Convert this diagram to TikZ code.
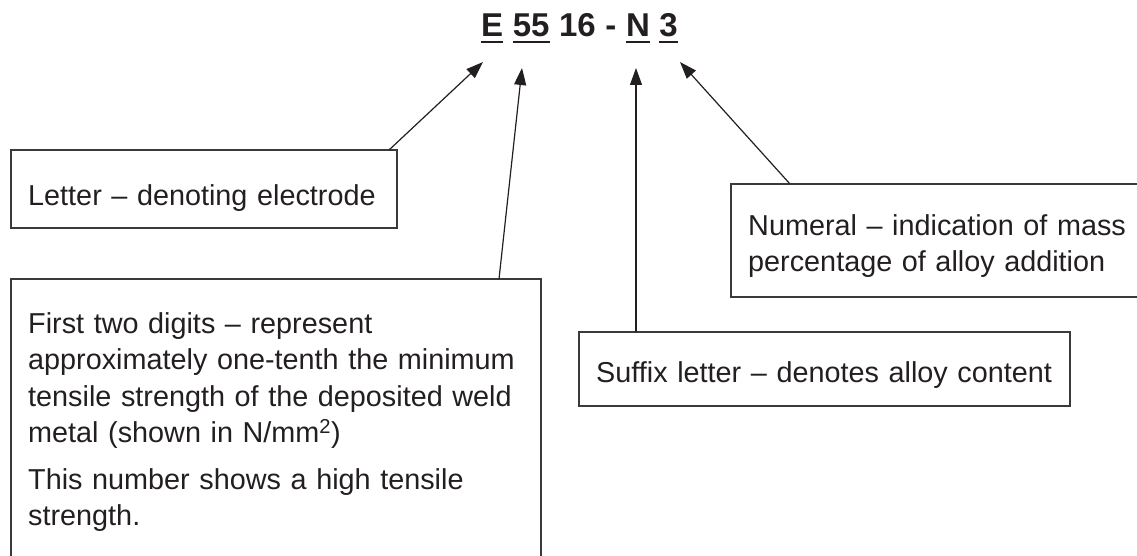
\documentclass[tikz,border=0pt]{standalone}
\usepackage{fontspec}
\setmainfont{Liberation Sans}
\usetikzlibrary{arrows.meta,calc}
\definecolor{ink}{HTML}{231F20}
\definecolor{frame}{HTML}{3A3A3A}
\tikzset{
  boxframe/.style={draw=frame,line width=1.3pt,fill=none},
  label/.style={anchor=base west,inner sep=0pt,text=ink,align=left,text width=#1,
    font=\fontsize{28.8}{36.5}\selectfont},
  label/.default=520pt,
  titlepart/.style={anchor=base west,inner sep=0pt,text=ink,font=\fontsize{33}{38}\selectfont\bfseries},
  uline/.style={draw=ink,line width=2.4pt},
  pointer/.style={draw=ink,line width=1.2pt,-{Triangle[length=17pt,width=12pt]}}
}
\begin{document}
\begin{tikzpicture}[x=1pt,y=-1pt]
\useasboundingbox (0,0) rectangle (1137,556);
% title
\node[titlepart] (tE) at (481,37) {E};
\node[titlepart] (t55) at ([xshift=9.2pt]tE.base east) {55};
\node[titlepart] (t16) at ([xshift=9.2pt]t55.base east) {16};
\node[titlepart] (tdash) at ([xshift=9.2pt]t16.base east) {-};
\node[titlepart] (tN) at ([xshift=9.2pt]tdash.base east) {N};
\node[titlepart] (t3) at ([xshift=9.2pt]tN.base east) {3};
\foreach \p in {tE,t55,tN,t3}
  \draw[uline] ([yshift=-5pt]\p.base west) -- ([yshift=-5pt]\p.base east);
% boxes
\draw[boxframe] (11,150) rectangle (397,228);
\node[inner sep=0pt,minimum width=386pt,minimum height=78pt,anchor=north west] (letter) at (11,150) {};
\draw[boxframe] (11,279) rectangle (541,620);
\node[inner sep=0pt,minimum width=530pt,minimum height=341pt,anchor=north west] (first) at (11,279) {};
\draw[boxframe] (731,184) rectangle (1160,297);
\node[inner sep=0pt,minimum width=429pt,minimum height=113pt,anchor=north west] (numeral) at (731,184) {};
\draw[boxframe] (579,332) rectangle (1070,406);
\node[inner sep=0pt,minimum width=491pt,minimum height=74pt,anchor=north west] (suffix) at (579,332) {};
% texts
\node[label] (letterT) at (28,205) {Letter -- denoting electrode};
\node[label] (firstT) at (28,333) {First two digits -- represent\\
approximately one-tenth the minimum\\
tensile strength of the deposited weld\\
metal (shown in N/mm\textsuperscript{2})\\[10pt]
This number shows a high tensile\\
strength.};
\node[label=400pt] (numeralT) at (748,235) {Numeral -- indication of mass\\
percentage of alloy addition};
\node[label] (suffixT) at (596,382) {Suffix letter -- denotes alloy content};
% arrow tips
\coordinate (tipE) at (483,62);
\coordinate (tip55) at (522,68);
\coordinate (tipN) at (636,68);
\coordinate (tip3) at (680,62);
\draw[pointer] ($(letter.north west)+(378,0)$) -- (tipE);
\draw[pointer] ($(first.north west)+(488,0)$) -- (tip55);
\draw[pointer] ($(suffix.north west)+(57,0)$) -- (tipN);
\draw[pointer] ($(numeral.north west)+(59,0)$) -- (tip3);
\end{tikzpicture}
\end{document}
